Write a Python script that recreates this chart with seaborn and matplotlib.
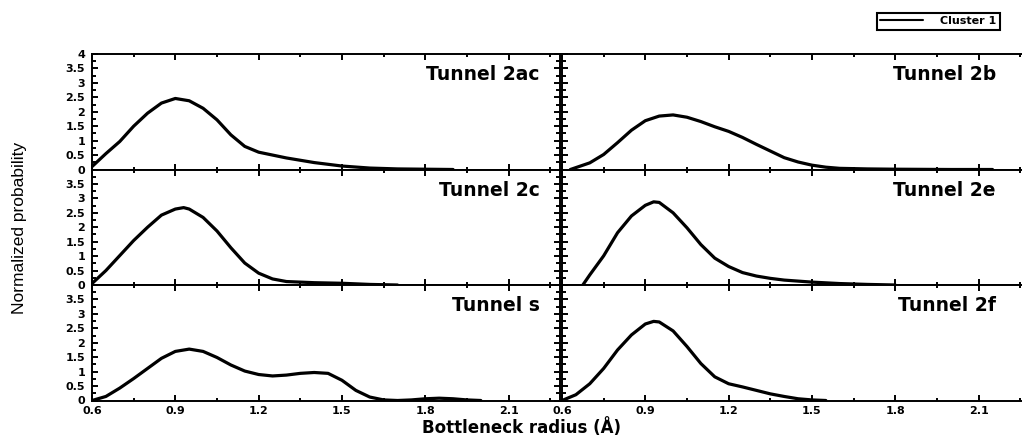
import matplotlib
matplotlib.use("Agg")
import matplotlib.pyplot as plt
from matplotlib.lines import Line2D
from matplotlib.ticker import MultipleLocator
import seaborn as sns
import pandas as pd

# ---------------- data ----------------
tunnel_names = ["Tunnel 2ac", "Tunnel 2b", "Tunnel 2c", "Tunnel 2e", "Tunnel s", "Tunnel 2f"]

x_2ac = [0.60, 0.65, 0.70, 0.75, 0.80, 0.85, 0.90, 0.95, 1.00, 1.05, 1.10, 1.15, 1.20, 1.30, 1.40, 1.50, 1.60, 1.70, 1.80, 1.90]
y_2ac = [0.10, 0.55, 0.97, 1.50, 1.95, 2.30, 2.46, 2.38, 2.12, 1.72, 1.20, 0.80, 0.60, 0.40, 0.24, 0.12, 0.05, 0.02, 0.01, 0.00]

x_2b = [0.63, 0.70, 0.75, 0.80, 0.85, 0.90, 0.95, 1.00, 1.05, 1.10, 1.15, 1.20, 1.25, 1.30, 1.35, 1.40, 1.45, 1.50, 1.55, 1.60, 1.70, 1.80, 2.00, 2.15]
y_2b = [0.00, 0.23, 0.52, 0.93, 1.36, 1.69, 1.85, 1.89, 1.81, 1.66, 1.48, 1.32, 1.11, 0.87, 0.64, 0.41, 0.26, 0.15, 0.08, 0.04, 0.02, 0.01, 0.00, 0.00]

x_2c = [0.60, 0.65, 0.70, 0.75, 0.80, 0.85, 0.90, 0.93, 0.95, 1.00, 1.05, 1.10, 1.15, 1.20, 1.25, 1.30, 1.40, 1.50, 1.60, 1.70]
y_2c = [0.05, 0.50, 1.02, 1.54, 2.00, 2.42, 2.63, 2.68, 2.63, 2.34, 1.87, 1.29, 0.76, 0.41, 0.21, 0.12, 0.08, 0.06, 0.02, 0.00]

x_2e = [0.675, 0.70, 0.75, 0.80, 0.85, 0.90, 0.93, 0.95, 1.00, 1.05, 1.10, 1.15, 1.20, 1.25, 1.30, 1.35, 1.40, 1.50, 1.60, 1.70, 1.80]
y_2e = [0.00, 0.35, 1.01, 1.81, 2.39, 2.76, 2.88, 2.86, 2.50, 1.98, 1.40, 0.93, 0.64, 0.43, 0.31, 0.23, 0.17, 0.10, 0.05, 0.02, 0.00]

x_s = [0.60, 0.65, 0.70, 0.75, 0.80, 0.85, 0.90, 0.95, 1.00, 1.05, 1.10, 1.15, 1.20, 1.25, 1.30, 1.35, 1.40, 1.45, 1.50, 1.55, 1.60, 1.65, 1.70, 1.75, 1.80, 1.85, 1.90, 1.95, 2.00]
y_s = [0.00, 0.14, 0.43, 0.76, 1.11, 1.46, 1.70, 1.78, 1.70, 1.49, 1.23, 1.02, 0.90, 0.85, 0.88, 0.94, 0.97, 0.94, 0.70, 0.35, 0.12, 0.02, 0.00, 0.02, 0.06, 0.08, 0.06, 0.02, 0.00]

x_2f = [0.60, 0.65, 0.70, 0.75, 0.80, 0.85, 0.90, 0.93, 0.95, 1.00, 1.05, 1.10, 1.15, 1.20, 1.25, 1.30, 1.35, 1.40, 1.45, 1.50, 1.55]
y_2f = [0.00, 0.20, 0.58, 1.11, 1.75, 2.27, 2.65, 2.74, 2.72, 2.41, 1.87, 1.28, 0.82, 0.58, 0.47, 0.35, 0.23, 0.14, 0.06, 0.02, 0.00]

x_ticks = [0.6, 0.9, 1.2, 1.5, 1.8, 2.1]
x_tick_labels = ["0.6", "0.9", "1.2", "1.5", "1.8", "2.1"]
y_ticks = [0, 0.5, 1, 1.5, 2, 2.5, 3, 3.5, 4]
y_tick_labels = ["0", "0.5", "1", "1.5", "2", "2.5", "3", "3.5", "4"]

series_x = [x_2ac, x_2b, x_2c, x_2e, x_s, x_2f]
series_y = [y_2ac, y_2b, y_2c, y_2e, y_s, y_2f]
legend_label = "Cluster 1"
x_label = "Bottleneck radius (Å)"
y_label = "Normalized probability"

# ---------------- style ----------------
sns.set_style("ticks")
plt.rcParams["font.family"] = ["DejaVu Sans"]
plt.rcParams["font.weight"] = "bold"
plt.rcParams["text.color"] = "black"
plt.rcParams["axes.labelcolor"] = "black"
plt.rcParams["xtick.color"] = "black"
plt.rcParams["ytick.color"] = "black"

W, H = 1022, 438
fig = plt.figure(figsize=(W / 100, H / 100), dpi=100)

left_x0 = 92
right_x0 = 562
pw = 468
row_tops = [54, 169.5, 285]
ph = 115.5

axes = []
for i in range(6):
    r, c = divmod(i, 2)
    x0 = left_x0 if c == 0 else right_x0
    top = row_tops[r]
    ax = fig.add_axes([x0 / W, 1 - (top + ph) / H, pw / W, ph / H])
    axes.append(ax)
    df = pd.DataFrame({"r": series_x[i], "p": series_y[i]})
    sns.lineplot(data=df, x="r", y="p", ax=ax, color="black", linewidth=2.3,
                 estimator=None, sort=False)
    ax.set_xlim(0.6, 2.285)
    ax.set_ylim(0, 4)
    ax.set_xticks(x_ticks)
    ax.xaxis.set_minor_locator(MultipleLocator(0.15))
    ax.set_yticks(y_ticks)
    ax.yaxis.set_minor_locator(MultipleLocator(0.25))
    for s in ax.spines.values():
        s.set_visible(True)
        s.set_linewidth(1.4)
        s.set_color("black")
    ax.tick_params(which="both", direction="in", top=True, bottom=True, left=True, right=True,
                   width=1.4, color="black", labelcolor="black")
    ax.tick_params(axis="x", which="major", length=4.5)
    ax.tick_params(axis="x", which="minor", length=2.5)
    ax.tick_params(axis="y", which="major", length=4.5)
    ax.tick_params(axis="y", which="minor", length=3.0)
    if c == 0:
        labs = list(y_tick_labels)
        if r != 0:
            labs[-1] = ""
        ax.set_yticklabels(labs, fontsize=8, fontweight="bold")
        ax.tick_params(axis="y", pad=5)
    else:
        ax.set_yticklabels([])
    if r == 2:
        ax.set_xticklabels(x_tick_labels, fontsize=8, fontweight="bold")
        ax.tick_params(axis="x", pad=4)
    else:
        ax.set_xticklabels([])
    ax.set_xlabel("")
    ax.set_ylabel("")
    tx = 0.957 if c == 0 else 0.927
    ax.text(tx, 0.82, tunnel_names[i], transform=ax.transAxes, ha="right", va="center",
            fontsize=13.5, fontweight="bold", color="black")

fig.text(521 / W, 1 - 428 / H, x_label, ha="center", va="center", fontsize=12, fontweight="bold",
         color="black")
fig.text(20 / W, 1 - 228 / H, y_label, ha="center", va="center", rotation=90, fontsize=12.5,
         fontweight="normal", family=["Liberation Sans", "DejaVu Sans"], color="black")

handle = Line2D([0], [0], color="black", linewidth=1.5)
leg = fig.legend([handle], [legend_label], loc="upper right", bbox_to_anchor=(1000 / W, 1 - 13 / H),
                 frameon=True, fancybox=False, edgecolor="black", framealpha=1,
                 prop={"size": 8, "weight": "bold", "family": "DejaVu Sans"}, handlelength=3.8,
                 borderpad=0.3, handletextpad=1.6, borderaxespad=0)
leg.get_frame().set_linewidth(1.5)
for t in leg.get_texts():
    t.set_color("black")

fig.savefig("out.png", dpi=100)
